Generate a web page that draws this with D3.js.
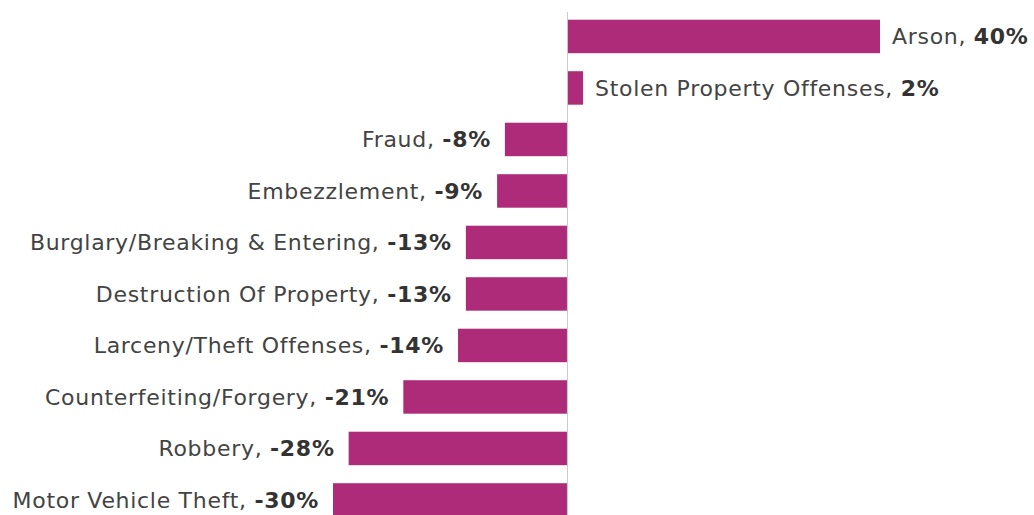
<!DOCTYPE html>
<html>
<head>
<meta charset="utf-8">
<script src="https://cdn.jsdelivr.net/npm/d3@7"></script>
<style>
  body { margin: 0; background: #fff; }
  text { font-family: "DejaVu Sans", sans-serif; }
</style>
</head>
<body>
<script>
// Data (percent change)
var categories = ["Arson", "Stolen Property Offenses", "Fraud", "Embezzlement",
    "Burglary/Breaking & Entering", "Destruction Of Property", "Larceny/Theft Offenses",
    "Counterfeiting/Forgery", "Robbery", "Motor Vehicle Theft"];
var values = [40, 2, -8, -9, -13, -13, -14, -21, -28, -30];

var data = categories.map(function(c, i) { return {name: c, value: values[i]}; });

var width = 1034, height = 515;

var svg = d3.select("body").append("svg")
    .attr("width", width)
    .attr("height", height);

// Scales
var x = d3.scaleLinear()
    .domain([-30, 40])
    .range([333, 880]);

var y = d3.scaleBand()
    .domain(categories)
    .range([10.7, 525.7])
    .paddingInner(0.35)
    .paddingOuter(0.175);

// Bars
svg.selectAll("rect.bar")
    .data(data)
    .enter().append("rect")
    .attr("class", "bar")
    .attr("x", function(d) { return x(Math.min(0, d.value)); })
    .attr("y", function(d) { return y(d.name); })
    .attr("width", function(d) { return Math.abs(x(d.value) - x(0)); })
    .attr("height", y.bandwidth())
    .style("fill", "#ae2b79");

// Zero line
svg.append("line")
    .attr("x1", x(0)).attr("x2", x(0))
    .attr("y1", 12).attr("y2", height)
    .style("stroke", "#c8c8c8")
    .style("stroke-width", 1);

// Labels
var labels = svg.selectAll("text.label")
    .data(data)
    .enter().append("text")
    .attr("class", "label")
    .attr("x", function(d) { return d.value >= 0 ? x(d.value) + 12 : x(d.value) - 14; })
    .attr("y", function(d) { return y(d.name) + y.bandwidth() / 2; })
    .attr("dy", "0.36em")
    .attr("text-anchor", function(d) { return d.value >= 0 ? "start" : "end"; })
    .style("font-size", "22px")
    .style("letter-spacing", "0.7px")
    .style("fill", "#434343");

labels.append("tspan")
    .text(function(d) { return d.name + ", "; });

labels.append("tspan")
    .style("font-weight", "bold")
    .style("fill", "#333")
    .text(function(d) { return d.value + "%"; });
</script>
</body>
</html>
